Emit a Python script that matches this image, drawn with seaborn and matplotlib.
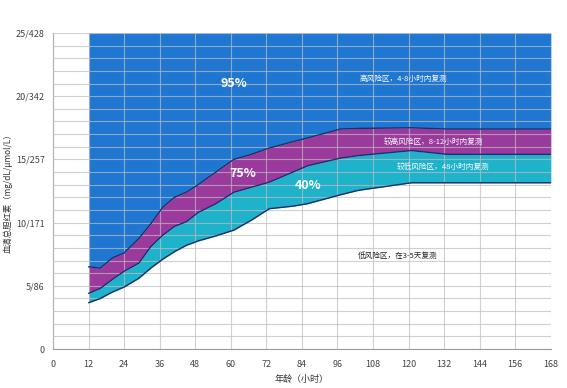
import matplotlib
matplotlib.use("Agg")
import matplotlib.pyplot as plt
import seaborn as sns
import pandas as pd
import numpy as np

hours = [12, 16, 20, 24, 29, 33, 37, 41, 45, 49, 55, 61, 67, 73, 81, 86, 97, 103, 121, 133, 168]
p95 = [6.5, 6.4, 7.2, 7.6, 8.75, 9.9, 11.2, 12.0, 12.4, 13.0, 14.0, 15.0, 15.4, 15.9, 16.4, 16.7, 17.4, 17.45, 17.5, 17.4, 17.4]
p75 = [4.4, 4.8, 5.5, 6.15, 6.8, 8.1, 9.0, 9.7, 10.07, 10.8, 11.5, 12.4, 12.8, 13.2, 14.0, 14.5, 15.1, 15.3, 15.7, 15.4, 15.4]
p40 = [3.66, 4.0, 4.5, 4.9, 5.6, 6.4, 7.1, 7.7, 8.2, 8.55, 8.95, 9.4, 10.2, 11.1, 11.3, 11.5, 12.2, 12.55, 13.15, 13.15, 13.15]

x_ticks = [0, 12, 24, 36, 48, 60, 72, 84, 96, 108, 120, 132, 144, 156, 168]
y_ticks = [0, 5, 10, 15, 20, 25]
y_ticklabels = ["0", "5/86", "10/171", "15/257", "20/342", "25/428"]
y_top = 25

df = pd.DataFrame({"hours": hours, "p95": p95, "p75": p75, "p40": p40})

sns.set_theme(style="white")
plt.rcParams['font.family'] = ['Noto Sans CJK SC', 'DejaVu Sans']

blue = "#1f77d2"
purple = "#9b3a9d"
cyan = "#1fb2cb"
navy = "#1c2f6e"

fig = plt.figure(figsize=(5.67, 3.88), dpi=100)
ax = fig.add_axes([0.0935, 0.1005, 0.878, 0.8145])

h = df["hours"].to_numpy()
ax.fill_between(h, df["p95"], y_top, color=blue, zorder=1, linewidth=0)
ax.fill_between(h, df["p75"], df["p95"], color=purple, zorder=1, linewidth=0)
ax.fill_between(h, df["p40"], df["p75"], color=cyan, zorder=1, linewidth=0)

for col in ["p95", "p75", "p40"]:
    sns.lineplot(data=df, x="hours", y=col, ax=ax, color=navy, linewidth=1.0, zorder=3)

ax.set_xlim(0, 168)
ax.set_ylim(0, 25)
ax.set_xticks(x_ticks)
ax.set_xticklabels([str(t) for t in x_ticks])
ax.set_yticks(y_ticks)
ax.set_yticklabels(y_ticklabels)
ax.set_yticks(np.arange(0, 26, 1), minor=True)
ax.grid(which="both", axis="y", color="#bdbdbd", linewidth=0.8, alpha=0.7)
ax.grid(which="major", axis="x", color="#bdbdbd", linewidth=0.8, alpha=0.7)
ax.set_axisbelow(False)
for l in ax.get_ygridlines() + ax.get_xgridlines():
    l.set_zorder(2)
for s in ["top", "right"]:
    ax.spines[s].set_visible(False)
for s in ["left", "bottom"]:
    ax.spines[s].set_color("#9a9a9a")
    ax.spines[s].set_linewidth(0.8)
ax.tick_params(axis="both", which="both", length=0, labelsize=6.5, colors="#444444", pad=6)
ax.tick_params(axis="x", pad=8)

ax.set_xlabel("年龄（小时）", fontsize=6.5, color="#333333", labelpad=4)
ax.set_ylabel("血清总胆红素（mg/dL/μmol/L）", fontsize=6, color="#333333")
ax.yaxis.set_label_coords(-0.082, 0.5)

ax.text(61, 21.0, "95%", color="white", fontsize=9, fontweight="bold", ha="center", va="center", zorder=5)
ax.text(64, 13.9, "75%", color="white", fontsize=9, fontweight="bold", ha="center", va="center", zorder=5)
ax.text(86, 12.9, "40%", color="white", fontsize=9, fontweight="bold", ha="center", va="center", zorder=5)
ax.text(103.5, 21.4, "高风险区，4-8小时内复测", color="white", fontsize=5.5, ha="left", va="center", zorder=5)
ax.text(111.5, 16.4, "较高风险区，8-12小时内复测", color="white", fontsize=5.5, ha="left", va="center", zorder=5)
ax.text(116, 14.4, "较低风险区，48小时内复测", color="white", fontsize=5.5, ha="left", va="center", zorder=5)
ax.text(103, 7.4, "低风险区，在3-5天复测", color="#222222", fontsize=5.5, ha="left", va="center", zorder=5)

fig.savefig("out.png", dpi=100)
